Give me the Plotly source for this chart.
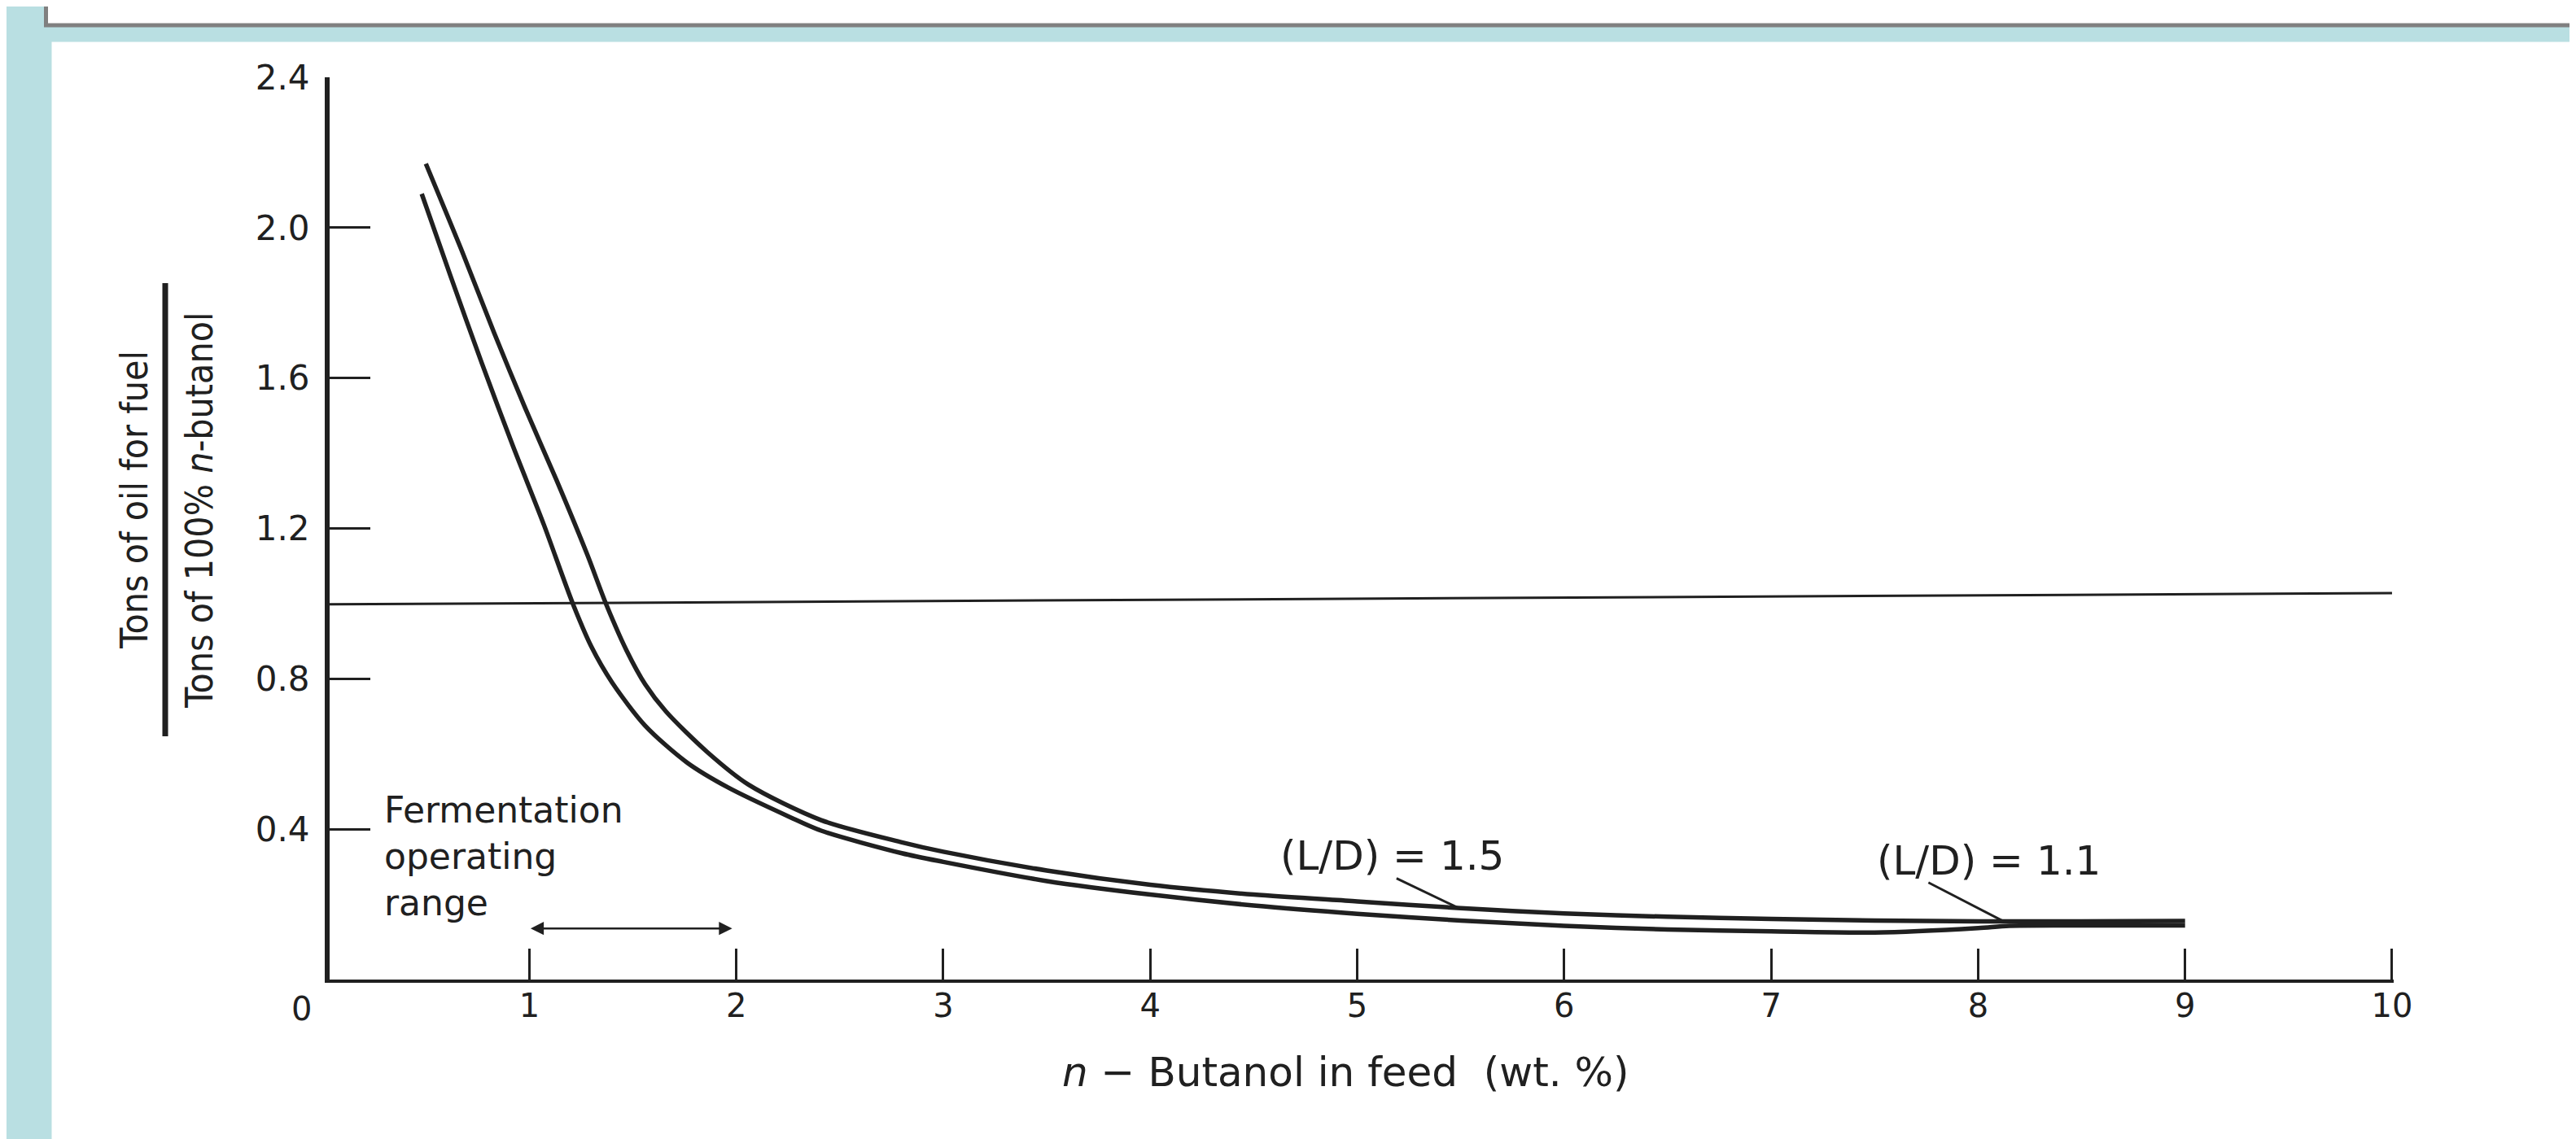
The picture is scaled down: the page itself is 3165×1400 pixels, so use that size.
import plotly.graph_objects as go

# ---------------- data ----------------
# (L/D) = 1.5  (upper / right-hand curve)
ld15_x = [0.50, 0.68, 0.83, 0.98, 1.13, 1.28, 1.37, 1.47, 1.56, 1.66, 1.86, 2.06,
          2.41, 2.80, 3.00, 3.50, 4.00, 4.50, 5.00, 5.50, 6.00, 6.50, 7.00, 7.50,
          8.00, 8.50, 9.00]
ld15_y = [2.17, 1.93, 1.72, 1.52, 1.33, 1.13, 1.00, 0.875, 0.785, 0.713, 0.605, 0.518,
          0.424, 0.365, 0.340, 0.290, 0.252, 0.226, 0.208, 0.190, 0.176, 0.167, 0.161, 0.157,
          0.155, 0.155, 0.156]

# (L/D) = 1.1  (lower / left-hand curve)
ld11_x = [0.48, 0.62, 0.77, 0.92, 1.07, 1.21, 1.30, 1.40, 1.56, 1.76, 1.96, 2.26,
          2.41, 2.80, 3.00, 3.50, 4.00, 4.50, 5.00, 5.50, 6.00, 6.50, 7.00, 7.50,
          8.00, 8.15, 8.50, 9.00]
ld11_y = [2.09, 1.87, 1.64, 1.42, 1.21, 1.00, 0.885, 0.79, 0.675, 0.578, 0.511, 0.432,
          0.396, 0.336, 0.313, 0.262, 0.226, 0.197, 0.175, 0.157, 0.143, 0.133, 0.128, 0.125,
          0.137, 0.143, 0.144, 0.144]

# break-even line (tons of oil = tons of butanol)
breakeven_x = [0.035, 10.0]
breakeven_y = [0.998, 1.028]

x_tick_vals = [1, 2, 3, 4, 5, 6, 7, 8, 9, 10]
x_tick_text = ["1", "2", "3", "4", "5", "6", "7", "8", "9", "10"]
y_tick_vals = [0.4, 0.8, 1.2, 1.6, 2.0, 2.4]
y_tick_text = ["0.4", "0.8", "1.2", "1.6", "2.0", "2.4"]

# fermentation operating range (wt. %)
ferm_range = [1.0, 1.98]
ferm_arrow_y = 0.136

# curve labels: text, label position, leader start, leader end
labels = [
    ("(L/D) = 1.5", 5.167, 0.329, (5.19, 0.269), (5.49, 0.190)),
    ("(L/D) = 1.1", 8.053, 0.316, (7.76, 0.258), (8.13, 0.153)),
]

# ---------------- layout geometry ----------------
W, H = 3165, 1400
L, R, T, B = 397, 232, 87, 204
PW, PH = W - L - R, H - T - B


def pxx(p):
    return (p - L) / PW


def pxy(p):
    return (H - B - p) / PH


INK = "#202020"
BLUE = "#B9DFE2"
FONT = "DejaVu Sans, Noto Sans, sans-serif"
NARROW = "Liberation Sans Narrow, DejaVu Sans Condensed, Liberation Sans, sans-serif"

fig = go.Figure()

fig.add_trace(go.Scatter(x=breakeven_x, y=breakeven_y, mode="lines",
                         line=dict(color=INK, width=3), hoverinfo="skip"))
fig.add_trace(go.Scatter(x=ld15_x, y=ld15_y, mode="lines", name="(L/D) = 1.5",
                         line=dict(color=INK, width=5.5, shape="spline", smoothing=0.8)))
fig.add_trace(go.Scatter(x=ld11_x, y=ld11_y, mode="lines", name="(L/D) = 1.1",
                         line=dict(color=INK, width=5.5, shape="spline", smoothing=0.8)))

shapes = [
    # slide frame: blue left strip and top band
    dict(type="rect", xref="paper", yref="paper", x0=pxx(-20), x1=pxx(55.5),
         y0=pxy(1420), y1=pxy(-20), fillcolor=BLUE, line=dict(width=0), layer="below"),
    dict(type="rect", xref="paper", yref="paper", x0=pxx(-20), x1=pxx(3185),
         y0=pxy(43.5), y1=pxy(-20), fillcolor=BLUE, line=dict(width=0), layer="below"),
    # title box above (cut off)
    dict(type="rect", xref="paper", yref="paper", x0=pxx(48.5), x1=pxx(3230),
         y0=pxy(23), y1=pxy(-60), fillcolor="white", line=dict(color="#808080", width=5),
         layer="below"),
    # fraction bar of the y-axis title
    dict(type="line", xref="paper", yref="paper", x0=pxx(195), x1=pxx(195),
         y0=pxy(897), y1=pxy(340), line=dict(color=INK, width=7)),
]
for text, tx, ty, (sx, sy), (ex, ey) in labels:
    shapes.append(dict(type="line", xref="x", yref="y", x0=sx, y0=sy, x1=ex, y1=ey,
                       line=dict(color=INK, width=3)))

annotations = [
    # y-axis title (fraction)
    dict(text="Tons of oil for fuel", xref="paper", yref="paper",
         x=pxx(157), y=pxy(607), xanchor="center", yanchor="middle", textangle=-90,
         showarrow=False, font=dict(family=NARROW, size=46, color=INK)),
    dict(text="Tons of 100% <i>n</i>-butanol", xref="paper", yref="paper",
         x=pxx(237), y=pxy(620), xanchor="center", yanchor="middle", textangle=-90,
         showarrow=False, font=dict(family=NARROW, size=46, color=INK)),
    # x-axis title
    dict(text="<i>n</i> − Butanol in feed  (wt. %)", xref="paper", yref="paper",
         x=pxx(1645), y=pxy(1310), xanchor="center", yanchor="middle",
         showarrow=False, font=dict(family=FONT, size=50, color=INK)),
    # origin label
    dict(text="0", xref="paper", yref="paper", x=pxx(362), y=pxy(1232),
         xanchor="center", yanchor="middle", showarrow=False,
         font=dict(family=FONT, size=40, color=INK)),
    # fermentation range
    dict(text="Fermentation<br>operating<br>range", xref="x", yref="y",
         x=0.29, y=0.51, xanchor="left", yanchor="top", align="left",
         showarrow=False, font=dict(family=FONT, size=44, color=INK)),
    dict(text="", xref="x", yref="y", x=ferm_range[1], y=ferm_arrow_y,
         ax=ferm_range[0], ay=ferm_arrow_y, axref="x", ayref="y",
         showarrow=True, arrowhead=2, arrowside="end+start", arrowsize=1.3,
         arrowwidth=2.5, arrowcolor=INK, standoff=0, startstandoff=0),
]
for text, tx, ty, _, _ in labels:
    annotations.append(dict(text=text, xref="x", yref="y", x=tx, y=ty,
                            xanchor="center", yanchor="middle", showarrow=False,
                            font=dict(family=FONT, size=50, color=INK)))

fig.update_layout(
    width=W, height=H,
    margin=dict(l=L, r=R, t=T, b=B, pad=0),
    paper_bgcolor="white", plot_bgcolor="white",
    showlegend=False,
    shapes=shapes, annotations=annotations,
    xaxis=dict(range=[0.035, 10.008], tickvals=x_tick_vals, ticktext=x_tick_text,
               ticks="inside", ticklen=38, tickwidth=3, tickcolor=INK,
               showline=True, linewidth=4, linecolor=INK, showgrid=False,
               zeroline=False, ticklabelstandoff=-6,
               tickfont=dict(family=FONT, size=40, color=INK)),
    yaxis=dict(range=[0, 2.4], tickvals=y_tick_vals, ticktext=y_tick_text,
               ticks="inside", ticklen=50, tickwidth=3, tickcolor=INK,
               showline=True, linewidth=6, linecolor=INK, showgrid=False,
               zeroline=False, ticklabelstandoff=10,
               tickfont=dict(family=FONT, size=42, color=INK)),
)

fig.write_html("out.html", config={"displayModeBar": False})
